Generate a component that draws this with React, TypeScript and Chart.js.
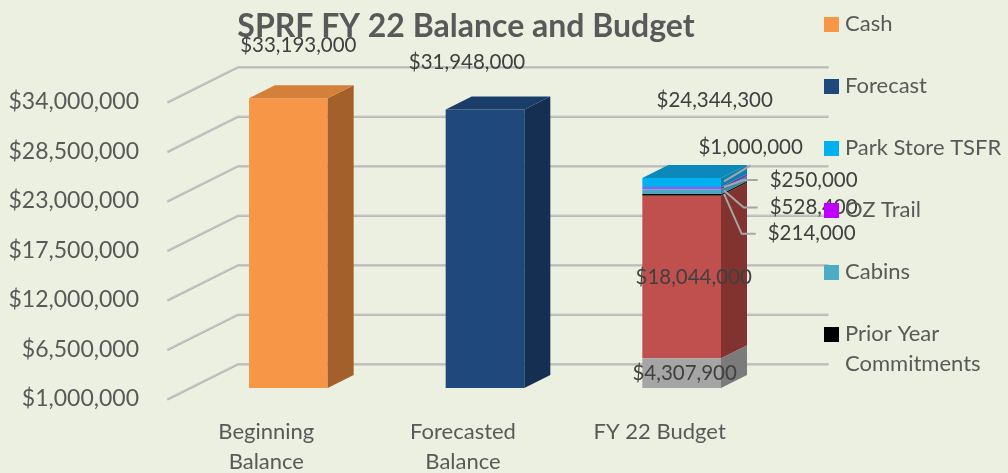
import React, { useEffect, useRef } from 'react';
import { Chart, registerables } from 'chart.js';

Chart.register(...registerables);

// ---------------- data ----------------
const CATEGORIES: (string | string[])[] = [['Beginning', 'Balance'], ['Forecasted', 'Balance'], 'FY 22 Budget'];
const CASH = [33193000, null, null];
const FORECAST = [null, 31948000, null];
const BUDGET_BASE = [null, null, 4307900];
const BUDGET_MAIN = [null, null, 18044000];
const PRIOR_YEAR = [null, null, 214000];
const CABINS = [null, null, 528400];
const OZ_TRAIL = [null, null, 250000];
const PARK_STORE = [null, null, 1000000];
const Y_TICKS = [1000000, 6500000, 12000000, 17500000, 23000000, 28500000, 34000000];
const Y_MIN = 1000000;
const Y_MAX = 34000000;
const TITLE = 'SPRF FY 22 Balance and Budget';
const LEGEND_ITEMS: { key: string; lines: string[] }[] = [
  { key: 'Cash', lines: ['Cash'] },
  { key: 'Forecast', lines: ['Forecast'] },
  { key: 'Park Store TSFR', lines: ['Park Store TSFR'] },
  { key: 'OZ Trail', lines: ['OZ Trail'] },
  { key: 'Cabins', lines: ['Cabins'] },
  { key: 'Prior Year Commitments', lines: ['Prior Year', 'Commitments'] },
];

// ---------------- styles ----------------
const FONT = 'Lato, "Open Sans", sans-serif';
const BG = '#ecf0e0';
const AXIS_COLOR = '#595959';
const LABEL_COLOR = '#404040';
const GRID_COLOR = '#c4c4c4';
const LEADER_COLOR = '#a6a6a6';
const BAR_DX = 26;
const BAR_DY = 13;
const WALL_BACK = 24;
const WALL_FRONT = 11;

type Series = {
  label: string;
  data: (number | null)[];
  front: string;
  top: string;
  side: string;
  legend?: string;
  lbl?: { dx: number; dy: number; anchor: 'top' | 'mid'; leader?: 'elbow' | 'straight' };
};

const SERIES: Series[] = [
  { label: 'Cash', data: CASH, front: '#f79646', top: '#d47f3a', side: '#a4602a', legend: '#f79646', lbl: { dx: 10, dy: -53, anchor: 'top' } },
  { label: 'Forecast', data: FORECAST, front: '#1f497d', top: '#1a3c68', side: '#142f52', legend: '#1f497d', lbl: { dx: -18, dy: -47, anchor: 'top' } },
  { label: 'Base', data: BUDGET_BASE, front: '#a5a5a5', top: '#8f8f8f', side: '#7b7b7b', lbl: { dx: 3, dy: 0, anchor: 'mid' } },
  { label: 'Budget', data: BUDGET_MAIN, front: '#c0504d', top: '#a23f3c', side: '#82322f', lbl: { dx: 12, dy: 0, anchor: 'mid' } },
  { label: 'Prior Year Commitments', data: PRIOR_YEAR, front: '#000000', top: '#111111', side: '#1a1a1a', legend: '#000000', lbl: { dx: 130, dy: 39, anchor: 'mid', leader: 'elbow' } },
  { label: 'Cabins', data: CABINS, front: '#4ba8c4', top: '#3f93ab', side: '#3a8aa0', legend: '#4bacc6', lbl: { dx: 132, dy: 16, anchor: 'mid', leader: 'elbow' } },
  { label: 'OZ Trail', data: OZ_TRAIL, front: '#9a58f2', top: '#7a45c8', side: '#6a3ab5', legend: '#c000ff', lbl: { dx: 132, dy: -8, anchor: 'mid', leader: 'elbow' } },
  { label: 'Park Store TSFR', data: PARK_STORE, front: '#00b0f0', top: '#0b89ba', side: '#0a7fb0', legend: '#00b0f0', lbl: { dx: 69, dy: -35, anchor: 'mid', leader: 'straight' } },
];
const TOTAL_LABEL_OFFSET = { dx: 33, dy: -78 };

const money = (v: number) => '$' + Math.round(v).toLocaleString('en-US');

const threeD = {
  id: 'threeD',
  beforeDraw(chart: any) {
    const { ctx, width, height } = chart;
    ctx.save();
    ctx.fillStyle = BG;
    ctx.fillRect(0, 0, width, height);
    ctx.restore();
  },
  beforeDatasetsDraw(chart: any) {
    const { ctx, chartArea } = chart;
    const y = chart.scales.y;
    ctx.save();
    ctx.lineCap = 'round';
    y.ticks.forEach((t: any) => {
      const py = y.getPixelForValue(t.value);
      ctx.beginPath();
      ctx.moveTo(chartArea.left - 2 * WALL_FRONT, py + WALL_FRONT);
      ctx.lineTo(chartArea.left + 2 * WALL_BACK, py - WALL_BACK);
      ctx.lineTo(chartArea.right + 2 * WALL_BACK, py - WALL_BACK);
      ctx.strokeStyle = GRID_COLOR;
      ctx.lineWidth = 2;
      ctx.stroke();
      ctx.beginPath();
      ctx.moveTo(chartArea.left - 2 * WALL_FRONT, py + WALL_FRONT + 1);
      ctx.lineTo(chartArea.left + 2 * WALL_BACK, py - WALL_BACK + 1);
      ctx.lineTo(chartArea.right + 2 * WALL_BACK, py - WALL_BACK + 1);
      ctx.strokeStyle = '#b0b0b0';
      ctx.lineWidth = 0.8;
      ctx.stroke();
    });
    ctx.restore();
  },
  afterDatasetsDraw(chart: any) {
    const { ctx, chartArea } = chart;
    const nCat = CATEGORIES.length;
    ctx.save();
    const segs: any[] = [];
    SERIES.forEach((s, di) => {
      const meta = chart.getDatasetMeta(di);
      meta.data.forEach((el: any, i: number) => {
        if (s.data[i] == null) return;
        const p = el.getProps(['x', 'y', 'base', 'width'], true);
        const l = p.x - p.width / 2;
        const r = p.x + p.width / 2;
        const top = Math.max(Math.min(p.y, p.base), chartArea.top - 100);
        const bot = Math.min(Math.max(p.y, p.base), chartArea.bottom);
        segs.push({ s, i, l, r, x: p.x, top, bot, value: s.data[i] });
      });
    });
    segs.forEach((g) => {
      if (g.bot <= g.top) return;
      ctx.beginPath();
      ctx.moveTo(g.r, g.bot);
      ctx.lineTo(g.r, g.top);
      ctx.lineTo(g.r + BAR_DX, g.top - BAR_DY);
      ctx.lineTo(g.r + BAR_DX, g.bot - BAR_DY);
      ctx.closePath();
      ctx.fillStyle = g.s.side;
      ctx.fill();
    });
    const tops: any[] = [];
    for (let i = 0; i < nCat; i++) {
      const inCat = segs.filter((g) => g.i === i);
      if (!inCat.length) continue;
      const t = inCat.reduce((a, b) => (b.top < a.top ? b : a));
      tops.push(t);
      ctx.beginPath();
      ctx.moveTo(t.l, t.top);
      ctx.lineTo(t.l + BAR_DX, t.top - BAR_DY);
      ctx.lineTo(t.r + BAR_DX, t.top - BAR_DY);
      ctx.lineTo(t.r, t.top);
      ctx.closePath();
      ctx.fillStyle = t.s.top;
      ctx.fill();
    }
    ctx.font = `20.5px ${FONT}`;
    ctx.fillStyle = LABEL_COLOR;
    ctx.textAlign = 'center';
    ctx.textBaseline = 'middle';
    segs.forEach((g) => {
      const o = g.s.lbl;
      if (!o) return;
      const ay = o.anchor === 'top' ? g.top : (g.top + g.bot) / 2;
      const cx = g.x + o.dx;
      const cy = ay + o.dy;
      const text = money(g.value);
      const w = ctx.measureText(text).width;
      if (o.leader) {
        ctx.save();
        ctx.strokeStyle = LEADER_COLOR;
        ctx.lineWidth = 2;
        ctx.beginPath();
        const sx = g.r + 3;
        const sy = ay - 1;
        ctx.moveTo(sx, sy);
        if (o.leader === 'elbow') {
          const left = cx - w / 2;
          ctx.lineTo(left - 26, cy);
          ctx.lineTo(left - 12, cy);
        } else {
          ctx.lineTo(cx, cy + 18);
        }
        ctx.stroke();
        ctx.restore();
      }
      ctx.fillText(text, cx, cy);
    });
    for (let i = 0; i < nCat; i++) {
      const inCat = segs.filter((g) => g.i === i);
      if (inCat.length < 2) continue;
      const t = tops.find((x) => x.i === i);
      const total = inCat.reduce((a, g) => a + g.value, 0);
      ctx.fillText(money(total), t.x + TOTAL_LABEL_OFFSET.dx, t.top + TOTAL_LABEL_OFFSET.dy);
    }
    ctx.restore();
  },
  afterDraw(chart: any) {
    const { ctx } = chart;
    ctx.save();
    ctx.font = `bold 32px ${FONT}`;
    ctx.fillStyle = AXIS_COLOR;
    ctx.textAlign = 'center';
    ctx.textBaseline = 'middle';
    ctx.fillText(TITLE, 466, 27);
    ctx.font = `22px ${FONT}`;
    ctx.textAlign = 'left';
    LEGEND_ITEMS.forEach((item, k) => {
      const s = SERIES.find((x) => x.label === item.key);
      const cy = 24.5 + k * 62;
      ctx.fillStyle = s?.legend || s?.front || '#000';
      ctx.fillRect(824, cy - 7.5, 15, 15);
      ctx.fillStyle = AXIS_COLOR;
      item.lines.forEach((ln, j) => ctx.fillText(ln, 845, cy - 1 + j * 30));
    });
    ctx.restore();
  },
};

export default function App() {
  const ref = useRef<HTMLCanvasElement | null>(null);
  useEffect(() => {
    if (!ref.current) return;
    const chart = new Chart(ref.current, {
      type: 'bar',
      data: {
        labels: CATEGORIES as any,
        datasets: SERIES.map((s) => ({
          label: s.label,
          data: s.data as any,
          backgroundColor: s.front,
          borderWidth: 0,
          barPercentage: 0.8,
          categoryPercentage: 0.5,
        })),
      },
      options: {
        responsive: false,
        devicePixelRatio: 1,
        animation: false,
        layout: { padding: { left: 0, right: 228, top: 91, bottom: 0 } },
        plugins: {
          legend: { display: false },
          tooltip: { enabled: false },
          title: { display: false },
        },
        scales: {
          x: {
            stacked: true,
            grid: { display: false, drawTicks: false },
            border: { display: false },
            ticks: {
              color: AXIS_COLOR,
              font: { family: FONT, size: 22, lineHeight: 1.36 },
              padding: 29,
              labelOffset: -2 * WALL_FRONT,
              maxRotation: 0,
              autoSkip: false,
            },
            afterFit: (s: any) => {
              s.height = 85;
            },
          },
          y: {
            stacked: true,
            min: Y_MIN,
            max: Y_MAX,
            grid: { display: false, drawTicks: false },
            border: { display: false },
            afterBuildTicks: (s: any) => {
              s.ticks = Y_TICKS.map((v) => ({ value: v }));
            },
            ticks: {
              color: AXIS_COLOR,
              font: { family: FONT, size: 23 },
              padding: 51,
              labelOffset: WALL_FRONT,
              callback: (v: any) => money(Number(v)),
            },
            afterFit: (s: any) => {
              s.width = 190;
            },
          },
        },
      },
      plugins: [threeD],
    });
    return () => chart.destroy();
  }, []);
  return (
    <div style={{ position: 'fixed', left: 0, top: 0, width: 1008, height: 473, background: BG }}>
      <canvas ref={ref} width={1008} height={473} style={{ width: 1008, height: 473, display: 'block' }} />
    </div>
  );
}
